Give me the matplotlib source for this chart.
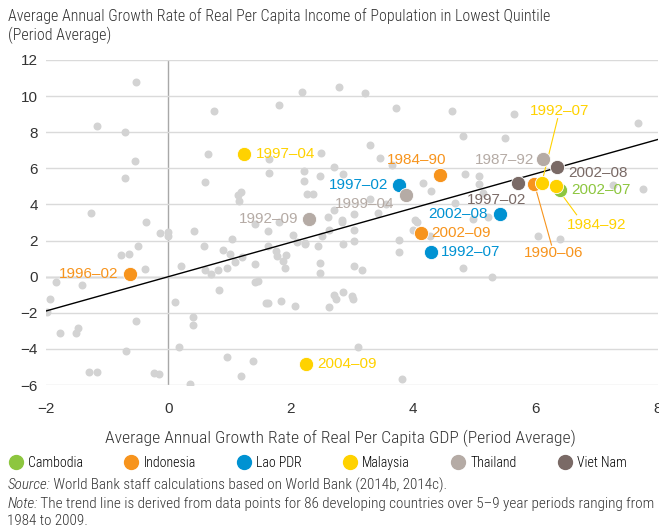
import matplotlib
matplotlib.use("Agg")
import matplotlib.pyplot as plt
from matplotlib.lines import Line2D

plt.rcParams['font.family'] = ['Liberation Sans', 'DejaVu Sans']
NARROW = ['Roboto Condensed', 'DejaVu Sans']

# all countries, period averages (gdp growth, lowest quintile income growth)
other_gdp = [
    -0.53, 0.75, -1.16, -0.71, 0.65, -0.54, -0.71, 0.59, 1.19, 1.14, 1.16, -1.27, -0.37,
    2.18, 2.78, 3.21, 1.81, 3.72, 4.64, 5.64, 7.67, 4.82, 5.50, 3.30, 2.49, 3.46, 1.65,
    3.65, 2.71, 1.65, 2.22, 2.85, 2.47, 2.21, 4.16, 4.29, 2.27, 2.36, 2.70, 2.61, 2.83,
    3.03, 3.43, 4.03, 4.85, 5.07, 5.08, 5.14, 4.68, 7.26, 7.75, 4.98, 5.22, 6.04, 6.40,
    4.82, 5.29, 3.30, 3.55,
    1.62, 2.03, 2.10, 2.23, 2.44, 2.51, 2.63, 2.83, 3.03, 3.04, 2.85, 1.62, 1.75, 1.78,
    1.92, 1.87, 1.91, 1.41, 2.48, 2.48, 3.04, 3.16, 3.76, 3.76, 4.00, 4.07, 1.41, 1.47,
    1.59, 1.63, 1.84, 2.07, 2.70, 2.74, 2.85, 3.00, 3.01, 2.63, 3.09, 1.39, 3.82, 1.41,
    1.80, 2.23, 4.27,
    -0.14, -0.01, -0.01, 0.42, 1.04, -0.49, -0.77, -0.64, 0.58, 0.89, 1.00, 1.20, 1.09,
    -0.39, 0.20, 0.60, 0.70, 0.81, 0.95, -1.84, -1.41, 0.82, -1.94, -1.98, 0.11, -0.53,
    0.41, 0.41, -1.77, -1.48, -1.51, 0.18, -0.69, 0.96, -1.29, -1.17, -0.24, -0.16, 0.35,
    1.19,
]
other_income = [
    10.77, 9.16, 8.33, 8.03, 6.80, 6.39, 5.45, 5.24, 4.69, 4.51, 4.17, 3.55, 3.00,
    10.25, 10.53, 10.16, 9.53, 9.33, 9.20, 9.03, 8.51, 7.77, 7.66, 7.30, 6.87, 6.59, 6.54,
    6.20, 6.06, 5.75, 5.84, 5.71, 5.56, 5.32, 5.18, 4.74, 4.58, 4.58, 3.71, 3.28, 3.16,
    3.47, 3.55, 3.13, 5.71, 5.56, 5.14, 4.64, 4.08, 5.10, 4.88, 3.21, 3.31, 2.23, 2.11,
    0.48, -0.02, 4.30, 4.00,
    2.51, 2.33, 1.90, 1.83, 1.68, 2.27, 2.60, 3.01, 2.60, 1.96, 1.83, 1.68, 1.40, 1.16,
    1.22, 0.85, 0.48, 0.72, 0.76, 0.20, 0.57, 0.35, 2.05, 1.35, 2.60, 3.01, -0.29, -0.22,
    -1.46, -1.46, -1.35, -1.61, -1.00, -1.22, -0.85, -1.05, -1.22, -1.70, -3.90, -4.69, -5.65, 2.92,
    3.01, 1.86, 2.23,
    2.42, 2.45, 2.27, 2.55, 2.11, 1.72, 1.18, 1.26, 1.72, 1.46, 1.26, 1.09, 0.81,
    0.43, 0.61, 0.39, 0.17, 0.35, 0.46, -0.29, -0.48, -0.76, -1.24, -1.94, -1.39, -2.44,
    -2.22, -2.68, -3.12, -2.84, -3.10, -3.88, -4.10, -4.43, -5.28, -5.28, -5.34, -5.39, -5.95,
    -5.48,
]

# highlighted East Asian periods
countries = ['Cambodia', 'Indonesia', 'Lao PDR', 'Malaysia', 'Thailand', 'Viet Nam']
colors = ['#8DC63F', '#F7941D', '#0092D2', '#FFD200', '#B5ABA5', '#7A6A66']

hl_country = ['Cambodia',
              'Indonesia', 'Indonesia', 'Indonesia', 'Indonesia',
              'Lao PDR', 'Lao PDR', 'Lao PDR',
              'Malaysia', 'Malaysia', 'Malaysia', 'Malaysia',
              'Thailand', 'Thailand', 'Thailand',
              'Viet Nam', 'Viet Nam']
hl_period = ['2002–07',
             '1984–90', '1996–02', '2002–09', '1990–06',
             '1997–02', '2002–08', '1992–07',
             '1997–04', '2004–09', '1992–07', '1984–92',
             '1992–09', '1999–04', '1987–92',
             '2002–08', '1997–02']
hl_gdp = [6.40,
          4.44, -0.63, 4.12, 5.98,
          3.77, 5.42, 4.29,
          1.23, 2.25, 6.10, 6.33,
          2.30, 3.88, 6.12,
          6.35, 5.72]
hl_income = [4.82,
             5.63, 0.17, 2.40, 5.14,
             5.10, 3.49, 1.35,
             6.82, -4.84, 5.19, 5.00,
             3.20, 4.51, 6.52,
             6.06, 5.17]

trend_slope = 0.95

# label placement: (text x, text y, ha, leader line end or None)
label_pos = [
    (6.58, 4.82, 'left', None),
    (4.06, 6.45, 'center', None),
    (-0.82, 0.17, 'right', None),
    (4.30, 2.40, 'left', None),
    (6.29, 1.31, 'center', (6.26, 1.75)),
    (3.59, 5.10, 'right', None),
    (5.22, 3.49, 'right', None),
    (4.45, 1.35, 'left', None),
    (1.43, 6.82, 'left', None),
    (2.43, -4.84, 'left', None),
    (6.39, 9.16, 'center', (6.36, 8.75)),
    (7.00, 2.88, 'center', (6.67, 3.43)),
    (2.12, 3.20, 'right', None),
    (3.70, 4.04, 'right', None),
    (5.97, 6.48, 'right', None),
    (6.54, 5.74, 'left', None),
    (5.37, 4.27, 'center', None),
]

fig = plt.figure(figsize=(6.59, 5.28), dpi=100)
ax = fig.add_axes([0.0698, 0.2708, 0.9287, 0.6156])
ax.set_xlim(-2, 8)
ax.set_ylim(-6, 12)

for s in ax.spines.values():
    s.set_visible(False)
ax.set_yticks(range(-6, 13, 2))
ax.set_xticks(range(-2, 9, 2))
ax.tick_params(length=0, labelsize=11, colors='#333333', pad=6)
ax.tick_params(axis='x', pad=12)
ax.grid(axis='y', color='#DADADA', lw=1)
ax.set_axisbelow(True)
ax.axhline(0, color='#A8A8A8', lw=1, zorder=0.5)
ax.axvline(0, color='#A8A8A8', lw=1, zorder=0.5)

ax.scatter(other_gdp, other_income, s=33, color='#D3D3D3', lw=0, zorder=1)
ax.plot([-2, 8], [-2 * trend_slope, 8 * trend_slope], color='black', lw=1, zorder=2)

cmap = dict(zip(countries, colors))
for i, c in enumerate(countries):
    idx = [k for k, h in enumerate(hl_country) if h == c]
    ax.scatter([hl_gdp[k] for k in idx], [hl_income[k] for k in idx],
               s=105, color=cmap[c], lw=0.6, edgecolor='white', zorder=3 + i)

for k in range(len(hl_period)):
    tx, ty, ha, lead = label_pos[k]
    col = cmap[hl_country[k]]
    ax.text(tx, ty, hl_period[k], color=col, fontsize=11, ha=ha, va='center', zorder=10)
    if lead is not None:
        ax.plot([hl_gdp[k], lead[0]], [hl_income[k], lead[1]], color=col, lw=0.8, zorder=2.5)

txt = dict(family=NARROW, color='#333333', weight='light')
fig.text(0.012, 0.984, 'Average Annual Growth Rate of Real Per Capita Income of Population in Lowest Quintile\n(Period Average)',
         fontsize=11.5, va='top', ha='left', linespacing=1.2, **txt)
fig.text(0.516, 0.170, 'Average Annual Growth Rate of Real Per Capita GDP (Period Average)',
         fontsize=12.6, ha='center', va='center', **txt)

handles = [Line2D([], [], ls='', marker='o', ms=10, color=c) for c in colors]
fig.legend(handles, countries, ncol=6, loc='center left', bbox_to_anchor=(0.013, 0.124),
           frameon=False, prop={'family': NARROW, 'size': 10, 'weight': 'light'}, handlelength=1,
           handletextpad=0.4, columnspacing=2.95, borderaxespad=0, borderpad=0)

# note lines: italic lead word followed by plain text
renderer = fig.canvas.get_renderer()
for ypos, lead, rest in [(0.081, 'Source:', ' World Bank staff calculations based on World Bank (2014b, 2014c).'),
                         (0.045, 'Note:', ' The trend line is derived from data points for 86 developing countries over 5–9 year periods ranging from')]:
    t = fig.text(0.011, ypos, lead, fontsize=10.9, style='italic', va='center', **txt)
    bb = t.get_window_extent(renderer)
    fig.text(bb.x1 / fig.bbox.width, ypos, rest, fontsize=10.9, va='center', **txt)
fig.text(0.011, 0.013, '1984 to 2009.', fontsize=10.9, va='center', **txt)

fig.savefig('out.png', dpi=100)
